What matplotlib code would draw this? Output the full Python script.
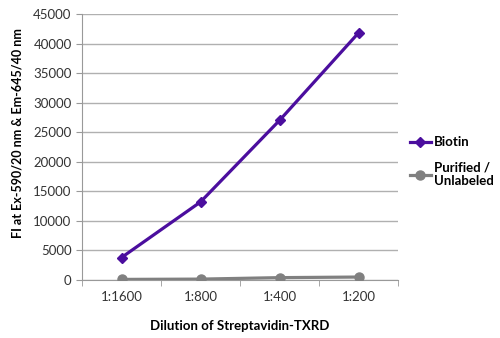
import numpy as np
import matplotlib
matplotlib.use("Agg")
import matplotlib.pyplot as plt

plt.rcParams['font.family'] = ['Lato', 'DejaVu Sans']

dilutions = ['1:1600', '1:800', '1:400', '1:200']
biotin = [3800, 13200, 27000, 41800]
unlabeled = [100, 150, 400, 500]

fig = plt.figure(figsize=(5, 3.38), dpi=100)
ax = fig.add_axes([0.164, 0.1716, 0.632, 0.787])

x = np.arange(len(dilutions))
ax.plot(x, biotin, color='#4b0e9e', lw=2.3, marker='D', ms=5, label='Biotin', zorder=3)
ax.plot(x, unlabeled, color='#808080', lw=2.3, marker='o', ms=6.5, label='Purified /\nUnlabeled', zorder=3)

ax.set_xlim(-0.5, 3.5)
ax.set_ylim(0, 45000)
ax.set_yticks(np.arange(0, 45001, 5000))
ax.set_xticks(x)
ax.set_xticklabels(dilutions)
ax.set_xticks(np.arange(-0.5, 3.6, 1), minor=True)
ax.tick_params(axis='x', which='major', length=0, labelsize=9.5, pad=8, colors='#333333')
ax.tick_params(axis='x', which='minor', length=4, color='#999999', direction='out')
ax.tick_params(axis='y', length=4, color='#999999', labelsize=9.5, colors='#333333')
ax.yaxis.grid(True, color='#b0b0b0', lw=1)
ax.set_axisbelow(True)
for s in ['top', 'right']:
    ax.spines[s].set_visible(False)
for s in ['left', 'bottom']:
    ax.spines[s].set_color('#999999')

ax.set_xlabel('Dilution of Streptavidin-TXRD', fontsize=9.5, fontweight='bold', labelpad=12)
ax.set_ylabel('FI at Ex-590/20 nm & Em-645/40 nm', fontsize=9, fontweight='bold')
ax.yaxis.set_label_coords(-0.185, 0.553)

leg = ax.legend(loc='upper left', bbox_to_anchor=(1.0, 0.585), frameon=False,
                prop={'weight': 'bold', 'size': 9.5}, handlelength=1.6,
                handletextpad=0.2, labelspacing=1.0)

fig.savefig('out.png', dpi=100)
